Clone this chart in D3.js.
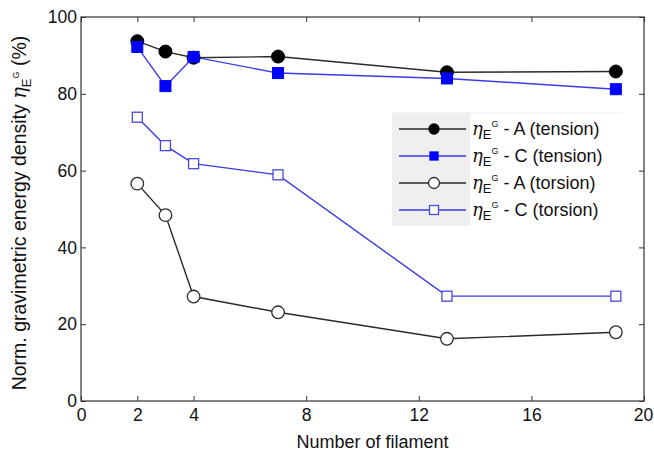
<!DOCTYPE html>
<html><head><meta charset="utf-8">
<script src="https://cdn.jsdelivr.net/npm/d3@7"></script>
<style>body{margin:0;background:#fff}text{font-family:"Liberation Sans",Arial,sans-serif}</style>
</head><body><svg id="c" width="654" height="453"></svg>
<script>
const filaments = [2, 3, 4, 7, 13, 19];
const aTension = [93.7, 91.0, 89.4, 89.7, 85.6, 85.8];
const cTension = [92.2, 82.0, 89.6, 85.4, 84.0, 81.2];
const aTorsion = [56.6, 48.4, 27.2, 23.1, 16.2, 17.9];
const cTorsion = [73.9, 66.5, 61.8, 58.9, 27.3, 27.3];
const xTicks = [0, 2, 4, 8, 12, 16, 20];
const yTicks = [0, 20, 40, 60, 80, 100];
const seriesNames = ["A (tension)", "C (tension)", "A (torsion)", "C (torsion)"];

const svg = d3.select("#c");
const L = 81, R = 644, T = 17, B = 401;
const x = d3.scaleLinear().domain([0, 20]).range([L, R]);
const y = d3.scaleLinear().domain([0, 100]).range([B, T]);

svg.append("rect").attr("x", L).attr("y", T).attr("width", R - L).attr("height", B - T)
  .attr("fill", "none").attr("stroke", "#333").attr("stroke-width", 1.2);

const fs = 17.5;
const axB = svg.append("g").attr("transform", `translate(0,${B})`)
  .call(d3.axisBottom(x).tickValues(xTicks).tickSizeInner(-5).tickSizeOuter(0).tickPadding(8));
const axT = svg.append("g").attr("transform", `translate(0,${T})`)
  .call(d3.axisTop(x).tickValues(xTicks).tickSizeInner(-5).tickSizeOuter(0).tickFormat(""));
const axL = svg.append("g").attr("transform", `translate(${L},0)`)
  .call(d3.axisLeft(y).tickValues(yTicks).tickSizeInner(-5).tickSizeOuter(0).tickPadding(4));
const axR = svg.append("g").attr("transform", `translate(${R},0)`)
  .call(d3.axisRight(y).tickValues(yTicks).tickSizeInner(-5).tickSizeOuter(0).tickFormat(""));
[axB, axT, axL, axR].forEach(a => {
  a.select(".domain").remove();
  a.selectAll("line").attr("stroke", "#333");
  a.selectAll("text").attr("font-size", fs).attr("fill", "#111").attr("font-family", '"Liberation Sans",Arial,sans-serif');
});
axB.selectAll("text").filter(d => d === 20).attr("dx", -1);

svg.append("text").attr("x", (L + R) / 2 + 10).attr("y", 448).attr("text-anchor", "middle")
  .attr("font-size", 18).attr("fill", "#111").text("Number of filament");
const yl = svg.append("text").attr("transform", `translate(26,${(T + B) / 2 + 4}) rotate(-90)`)
  .attr("text-anchor", "middle").attr("font-size", 19.5).attr("fill", "#111");
yl.append("tspan").text("Norm. gravimetric energy density ");
yl.append("tspan").attr("font-family", '"DejaVu Serif",serif').attr("font-style", "italic").text("η");
yl.append("tspan").attr("font-size", 13).attr("dy", 5).text("E");
yl.append("tspan").attr("font-size", 9).attr("dy", -12).text("G");
yl.append("tspan").attr("dy", 7).text(" (%)");

const blackLine = "#2a2a2a", blueLine = "#3a3ae6", blue = "#0000ff", openBlue = "#4a4ad8";
const line = d3.line().x((d, i) => x(filaments[i])).y(d => y(d));

const series = [
  { v: aTorsion, stroke: blackLine, m: "circle", fill: "#fff", ms: blackLine },
  { v: cTorsion, stroke: blueLine, m: "square", fill: "#fff", ms: openBlue },
  { v: aTension, stroke: blackLine, m: "circle", fill: "#000", ms: "#000" },
  { v: cTension, stroke: blueLine, m: "square", fill: blue, ms: blue },
];
function marker(g, type, cx, cy, fill, st, filled) {
  if (type === "circle") {
    g.append("circle").attr("cx", cx).attr("cy", cy).attr("r", filled ? 6.5 : 6.3)
      .attr("fill", fill).attr("stroke", st).attr("stroke-width", filled ? 1 : 1.3);
  } else {
    const s = filled ? 11 : 10;
    g.append("rect").attr("x", cx - s / 2).attr("y", cy - s / 2).attr("width", s).attr("height", s)
      .attr("fill", fill).attr("stroke", st).attr("stroke-width", filled ? 1 : 1.3);
  }
}
series.forEach(s => {
  svg.append("path").datum(s.v).attr("d", line).attr("fill", "none")
    .attr("stroke", s.stroke).attr("stroke-width", 1.4);
});
series.forEach(s => {
  const g = svg.append("g");
  s.v.forEach((d, i) => marker(g, s.m, x(filaments[i]), y(d), s.fill, s.ms, s.fill !== "#fff"));
});

const lg = svg.append("g");
lg.append("rect").attr("x", 392).attr("y", 113).attr("width", 230).attr("height", 113).attr("fill", "#fff");
lg.append("line").attr("x1", 392).attr("x2", 622).attr("y1", 113).attr("y2", 113).attr("stroke", "#ececec");
lg.append("rect").attr("x", 392).attr("y", 113).attr("width", 78).attr("height", 113).attr("fill", "#efefef");
const legItems = [
  { name: seriesNames[0], stroke: blackLine, m: "circle", fill: "#000", ms: "#000", f: true },
  { name: seriesNames[1], stroke: blueLine, m: "square", fill: blue, ms: blue, f: true },
  { name: seriesNames[2], stroke: blackLine, m: "circle", fill: "#fff", ms: blackLine, f: false },
  { name: seriesNames[3], stroke: blueLine, m: "square", fill: "#fff", ms: openBlue, f: false },
];
legItems.forEach((it, i) => {
  const cy = 129 + i * 27;
  lg.append("line").attr("x1", 399).attr("x2", 466).attr("y1", cy).attr("y2", cy)
    .attr("stroke", it.stroke).attr("stroke-width", 1.4);
  if (it.m === "circle") {
    lg.append("circle").attr("cx", 434).attr("cy", cy).attr("r", it.f ? 5 : 5.5)
      .attr("fill", it.fill).attr("stroke", it.ms).attr("stroke-width", 1.3);
  } else {
    const s = it.f ? 8 : 9;
    lg.append("rect").attr("x", 434 - s / 2).attr("y", cy - s / 2).attr("width", s).attr("height", s)
      .attr("fill", it.fill).attr("stroke", it.ms).attr("stroke-width", 1.3);
  }
  const t = lg.append("text").attr("x", 472).attr("y", cy + 6).attr("font-size", 18).attr("fill", "#111");
  t.append("tspan").attr("font-family", '"DejaVu Serif",serif').attr("font-style", "italic").text("η");
  t.append("tspan").attr("font-size", 13).attr("dy", 4).text("E");
  t.append("tspan").attr("font-size", 9).attr("dy", -12).text("G");
  t.append("tspan").attr("dy", 8).text(" - " + it.name);
});
</script></body></html>
